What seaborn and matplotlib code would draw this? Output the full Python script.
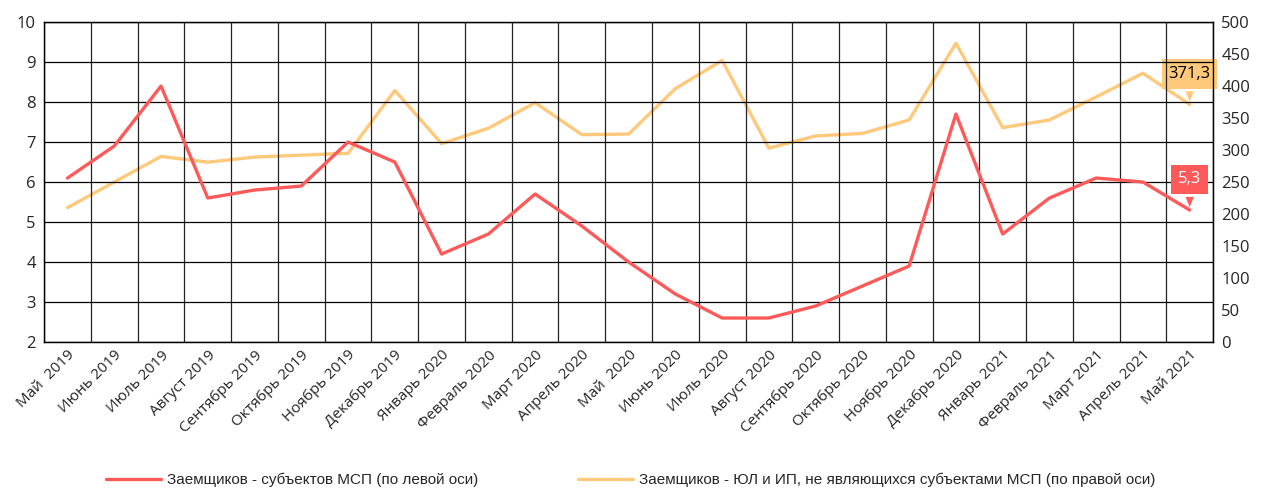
import numpy as np
import pandas as pd
import seaborn as sns
from matplotlib import pyplot as plt

# Daten
monate = ["Май  2019", "Июнь 2019", "Июль 2019", "Август 2019", "Сентябрь 2019",
          "Октябрь 2019", "Ноябрь 2019", "Декабрь 2019", "Январь 2020", "Февраль 2020",
          "Март 2020", "Апрель 2020", "Май  2020", "Июнь 2020", "Июль 2020",
          "Август 2020", "Сентябрь 2020", "Октябрь 2020", "Ноябрь 2020", "Декабрь 2020",
          "Январь 2021", "Февраль 2021", "Март 2021", "Апрель 2021", "Май 2021"]
msp = [6.1, 6.9, 8.4, 5.6, 5.8, 5.9, 7.0, 6.5, 4.2, 4.7, 5.7, 4.9, 4.0,
       3.2, 2.6, 2.6, 2.9, 3.4, 3.9, 7.7, 4.7, 5.6, 6.1, 6.0, 5.3]
ne_msp = [210, 250, 290, 281, 289, 292, 295, 393, 310, 334, 374, 324, 325,
          396, 440, 303, 322, 326, 347, 467, 335, 347, 383, 420, 371.3]
name_msp = "Заемщиков - субъектов МСП (по левой оси)"
name_ne_msp = "Заемщиков - ЮЛ и ИП, не являющихся субъектами МСП (по правой оси)"

rot = "#FF5A5A"
gelb = "#FFC97C"

sns.set_style("white")
plt.rcParams['font.family'] = ['Open Sans', 'DejaVu Sans']

df = pd.DataFrame({"pos": np.arange(len(monate)), "msp": msp, "ne_msp": ne_msp})

fig = plt.figure(figsize=(12.61, 4.90), dpi=100)
ax = fig.add_axes([0.035, 0.302, 0.927, 0.653])
ax2 = ax.twinx()

sns.lineplot(data=df, x="pos", y="msp", ax=ax, color=rot, linewidth=2.4, label=name_msp, legend=False, zorder=4)
sns.lineplot(data=df, x="pos", y="ne_msp", ax=ax2, color=gelb, linewidth=2.4, label=name_ne_msp, legend=False, zorder=3)

# rot ueber gelb
ax.set_zorder(ax2.get_zorder() + 1)
ax.patch.set_visible(False)

ax.set_xlim(-0.5, len(monate) - 0.5)
ax.set_ylim(2, 10)
ax2.set_ylim(0, 500)
ax.set_yticks(range(2, 11))
ax2.set_yticks(range(0, 501, 50))
ax.set_xticks(df["pos"])
ax.set_xticklabels(monate, rotation=45, ha="right", rotation_mode="anchor", fontsize=11)
ax.tick_params(axis="x", length=0, pad=4)
ax.tick_params(axis="y", length=0, labelsize=12, pad=6)
ax2.tick_params(axis="y", length=0, labelsize=12, pad=6)
ax.set_xlabel("")
ax.set_ylabel("")
ax2.set_ylabel("")

# Gitter
ax.set_xticks(np.arange(-0.5, len(monate), 1), minor=True)
ax.tick_params(axis="x", which="minor", length=0)
ax.grid(which="minor", axis="x", color="#222222", linewidth=0.9)
ax.grid(which="major", axis="y", color="black", linewidth=0.9)
ax.grid(which="major", axis="x", visible=False)
ax2.grid(False)
for a in (ax, ax2):
    for s in a.spines.values():
        s.set_color("black")
        s.set_linewidth(0.9)

# Beschriftungen letzter Punkt
ax2.annotate("371,3", xy=(df["pos"].iloc[-1], ne_msp[-1]), xytext=(0, 22), textcoords="offset points",
             ha="center", va="center", fontsize=12, color="black",
             bbox=dict(boxstyle="square,pad=0.4", fc=gelb, ec="none"),
             arrowprops=dict(arrowstyle="wedge,tail_width=0.5", fc=gelb, ec="none"))
ax.annotate("5,3", xy=(df["pos"].iloc[-1], msp[-1]), xytext=(0, 22), textcoords="offset points",
            ha="center", va="center", fontsize=12, color="white",
            bbox=dict(boxstyle="square,pad=0.4", fc=rot, ec="none"),
            arrowprops=dict(arrowstyle="wedge,tail_width=0.5", fc=rot, ec="none"))

h1, l1 = ax.get_legend_handles_labels()
h2, l2 = ax2.get_legend_handles_labels()
fig.legend(h1 + h2, l1 + l2, loc="lower center", bbox_to_anchor=(0.5, -0.022), ncol=2, frameon=False,
           columnspacing=6.5, handlelength=3.6, handletextpad=0.4,
           prop={"family": ["Liberation Sans", "DejaVu Sans"], "size": 11})

plt.savefig("out.png", dpi=100)
